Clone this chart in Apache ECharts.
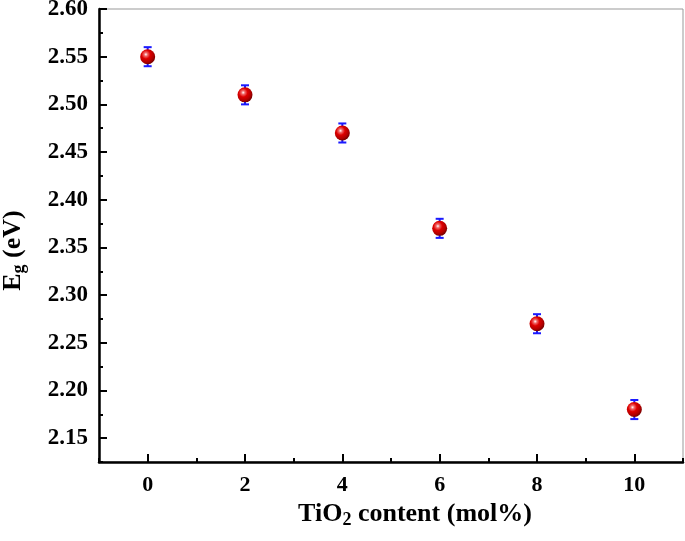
<!DOCTYPE html>
<html>
<head>
<meta charset="utf-8">
<script src="https://cdn.jsdelivr.net/npm/echarts@6/dist/echarts.min.js"></script>
<style>
  html, body { margin: 0; padding: 0; background: #fff; }
  #chart { width: 685px; height: 541px; }
</style>
</head>
<body>
<div id="chart"></div>
<script>
// TiO2 content (mol%) and band gap Eg (eV)
const tio2Content = [0, 2, 4, 6, 8, 10];
const egValues = [2.55, 2.51, 2.47, 2.37, 2.27, 2.18];
const egErrors = [0.01, 0.01, 0.01, 0.01, 0.01, 0.01];

const xMajorTicks = [0, 2, 4, 6, 8, 10];
const xMinorTicks = [-1, 1, 3, 5, 7, 9, 11];
const yMajorTicks = [2.15, 2.20, 2.25, 2.30, 2.35, 2.40, 2.45, 2.50, 2.55, 2.60];
const yMinorTicks = [2.125, 2.175, 2.225, 2.275, 2.325, 2.375, 2.425, 2.475, 2.525, 2.575];

const FONT = '"Liberation Serif", "Times New Roman", serif';

const chart = echarts.init(document.getElementById('chart'));

const points = tio2Content.map((x, i) => [x, egValues[i], egErrors[i]]);

const sphere = new echarts.graphic.RadialGradient(0.38, 0.35, 0.65, [
  { offset: 0, color: '#ffffff' },
  { offset: 0.18, color: '#f26a6a' },
  { offset: 0.45, color: '#dd0000' },
  { offset: 0.8, color: '#b00000' },
  { offset: 1, color: '#7a0000' }
]);

const labelStyle = { color: '#000', fontFamily: FONT, fontWeight: 'bold' };
const subStyle = { fontFamily: FONT, fontWeight: 'bold', fontSize: 18, padding: [12, 0, 0, 0] };

const option = {
  animation: false,
  backgroundColor: '#fff',
  grid: {
    left: 99, right: 2, top: 9, bottom: 79,
    outerBoundsMode: 'none',
    containLabel: false,
    show: true, borderColor: '#999', borderWidth: 1
  },
  xAxis: [
    {
      type: 'value', min: -1, max: 11,
      name: 'TiO{sub|2} content (mol%)',
      nameLocation: 'middle', nameGap: 36,
      nameTextStyle: Object.assign({ fontSize: 26, padding: [0, 0, 0, 48], rich: { sub: subStyle } }, labelStyle),
      axisLine: { show: true, onZero: false, lineStyle: { color: '#000', width: 2.5 } },
      axisTick: { show: true, inside: true, length: 8, lineStyle: { width: 2 }, customValues: xMajorTicks },
      axisLabel: Object.assign({ margin: 12, fontSize: 22, customValues: xMajorTicks }, labelStyle),
      splitLine: { show: false }
    },
    {
      type: 'value', min: -1, max: 11, position: 'bottom',
      axisLine: { show: false, onZero: false },
      axisTick: { show: true, inside: true, length: 4, lineStyle: { color: '#000', width: 2 }, customValues: xMinorTicks },
      axisLabel: { show: false },
      splitLine: { show: false }
    }
  ],
  yAxis: [
    {
      type: 'value', min: 2.125, max: 2.60,
      name: 'E{sub|g} (eV)',
      nameLocation: 'middle', nameGap: 71, nameRotate: 90,
      nameTextStyle: Object.assign({ fontSize: 26, padding: [0, 30, 0, 0], rich: { sub: subStyle } }, labelStyle),
      axisLine: { show: true, onZero: false, lineStyle: { color: '#000', width: 2.5 } },
      axisTick: { show: true, inside: true, length: 8, lineStyle: { width: 2 }, customValues: yMajorTicks },
      axisLabel: Object.assign({
        margin: 11, fontSize: 23, customValues: yMajorTicks,
        formatter: v => v.toFixed(2)
      }, labelStyle),
      splitLine: { show: false }
    },
    {
      type: 'value', min: 2.125, max: 2.60, position: 'left',
      axisLine: { show: false, onZero: false },
      axisTick: { show: true, inside: true, length: 4, lineStyle: { color: '#000', width: 2 }, customValues: yMinorTicks },
      axisLabel: { show: false },
      splitLine: { show: false }
    }
  ],
  series: [
    {
      type: 'custom',
      name: 'error',
      xAxisIndex: 0, yAxisIndex: 0,
      data: points,
      renderItem: function (params, api) {
        const x = api.value(0), y = api.value(1), e = api.value(2);
        const hi = api.coord([x, y + e]);
        const lo = api.coord([x, y - e]);
        const cap = 4;
        const style = { stroke: '#1a1aff', lineWidth: 2 };
        return {
          type: 'group',
          children: [
            { type: 'line', shape: { x1: hi[0], y1: hi[1], x2: lo[0], y2: lo[1] }, style: style },
            { type: 'line', shape: { x1: hi[0] - cap, y1: hi[1], x2: hi[0] + cap, y2: hi[1] }, style: style },
            { type: 'line', shape: { x1: lo[0] - cap, y1: lo[1], x2: lo[0] + cap, y2: lo[1] }, style: style }
          ]
        };
      },
      z: 2
    },
    {
      type: 'scatter',
      name: 'Eg',
      xAxisIndex: 0, yAxisIndex: 0,
      data: points.map(p => [p[0], p[1]]),
      symbol: 'circle',
      symbolSize: 15,
      itemStyle: { color: sphere, opacity: 1 },
      z: 3
    }
  ]
};

chart.setOption(option);
window.addEventListener('resize', () => chart.resize());
</script>
</body>
</html>
